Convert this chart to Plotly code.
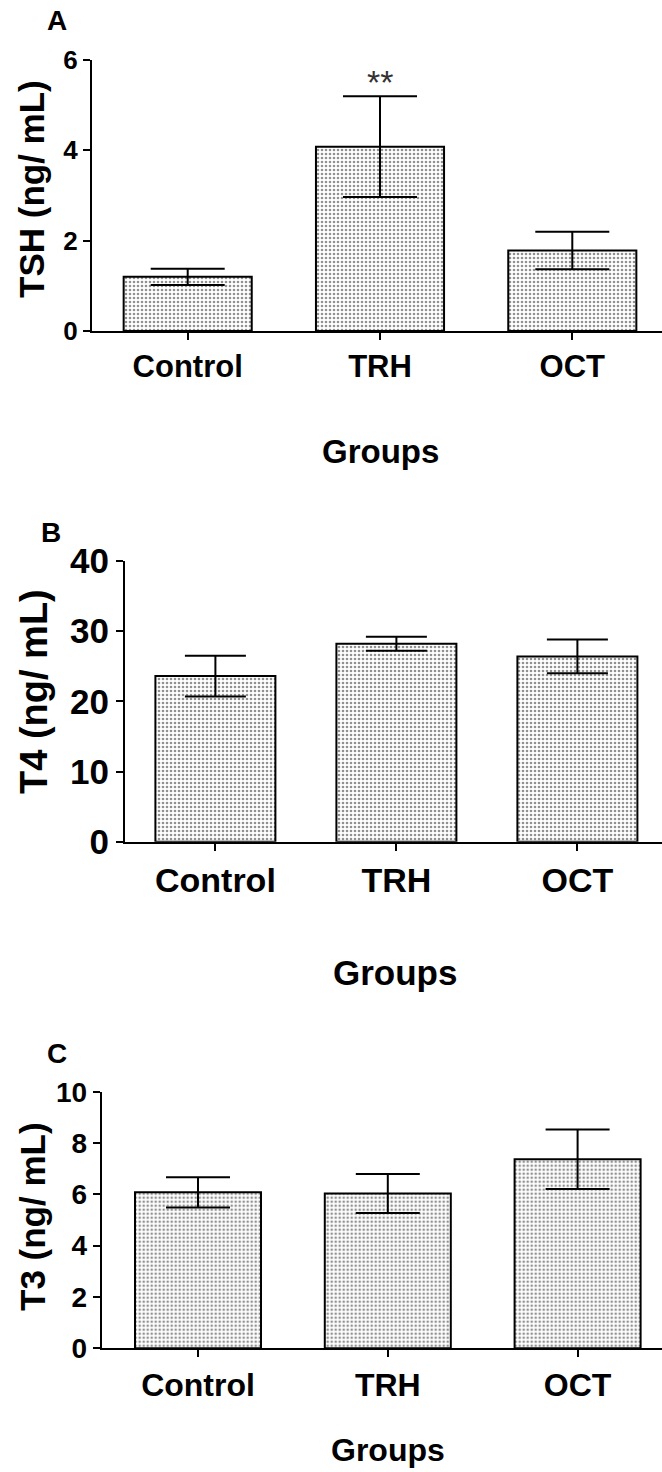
import plotly.graph_objects as go

# ---------------- data ----------------
groups = ["Control", "TRH", "OCT"]
tsh_mean = [1.20, 4.08, 1.78]
tsh_sem = [0.18, 1.115, 0.415]
t4_mean = [23.6, 28.2, 26.4]
t4_sem = [2.9, 1.0, 2.4]
t3_mean = [6.08, 6.03, 7.37]
t3_sem = [0.59, 0.76, 1.16]

panel_letters = ["A", "B", "C"]
y_titles = ["TSH (ng/ mL)", "T4 (ng/ mL)", "T3 (ng/ mL)"]
x_title = "Groups"
y_ticks = [[0, 2, 4, 6], [0, 10, 20, 30, 40], [0, 2, 4, 6, 8, 10]]
sig_label = "**"
sig_y = 5.69

W, H = 662, 1472
FONT = "Liberation Sans, Arial, Helvetica, sans-serif"


def px(x):
    return x / W


def py(y):
    return 1 - y / H


# panel geometry (pixels)
panels = [
    dict(mean=tsh_mean, sem=tsh_sem, ax=92, y0=331, ytop=60, centers=(187.7, 380.0),
         bw=0.666, cap=37, ytick=26, xtick=31, yrange=[0, 6]),
    dict(mean=t4_mean, sem=t4_sem, ax=125, y0=841.7, ytop=561, centers=(215.4, 396.4),
         bw=0.663, cap=30.5, ytick=35, xtick=34, yrange=[0, 40]),
    dict(mean=t3_mean, sem=t3_sem, ax=101.7, y0=1348.3, ytop=1091.7, centers=(198.0, 387.8),
         bw=0.664, cap=32, ytick=28, xtick=32, yrange=[0, 10]),
]

fig = go.Figure()
xpos = [0, 1, 2]

for i, p in enumerate(panels):
    n = "" if i == 0 else str(i + 1)
    fig.add_trace(go.Bar(
        x=xpos, y=p["mean"], width=p["bw"],
        xaxis="x" + n, yaxis="y" + n,
        marker=dict(color="white", line=dict(color="black", width=2),
                    pattern=dict(shape=".", fgcolor="#222222", bgcolor="white",
                                 size=4, solidity=0.33, fillmode="overlay")),
        error_y=dict(type="data", array=p["sem"], color="black", thickness=2,
                     width=p["cap"]),
        showlegend=False,
    ))
    c0, c1 = p["centers"]
    sp = c1 - c0
    xr = [(p["ax"] - c0) / sp, (W - c0) / sp]
    fig.layout["xaxis" + n] = dict(
        domain=[px(p["ax"]), 1], range=xr, anchor="y" + n,
        tickmode="array", tickvals=xpos, ticktext=groups,
        showline=True, linecolor="black", linewidth=2,
        ticks="outside", ticklen=7, tickwidth=2, tickcolor="black",
        tickfont=dict(family=FONT, size=p["xtick"], color="black", weight="bold"),
        showgrid=False, zeroline=False, fixedrange=True, automargin=False,
    )
    fig.layout["yaxis" + n] = dict(
        domain=[py(p["y0"]), py(p["ytop"])], range=p["yrange"], anchor="x" + n,
        tickmode="array", tickvals=y_ticks[i],
        showline=True, linecolor="black", linewidth=2,
        ticks="outside", ticklen=7, tickwidth=2, tickcolor="black",
        tickfont=dict(family=FONT, size=p["ytick"], color="black", weight="bold"),
        showgrid=False, zeroline=False, fixedrange=True, automargin=False,
    )

ann = []
# panel letters
for (lx, ly), t in zip([(57, 20), (51, 532), (57, 1053)], panel_letters):
    ann.append(dict(x=px(lx), y=py(ly), xref="paper", yref="paper", text=t,
                    showarrow=False, xanchor="center", yanchor="middle",
                    font=dict(family=FONT, size=28, color="black", weight="bold")))
# y titles
for (tx, ty, fs), t in zip([(31, 189, 35), (34, 692, 38), (32, 1217, 35)], y_titles):
    ann.append(dict(x=px(tx), y=py(ty), xref="paper", yref="paper", text=t,
                    showarrow=False, textangle=-90, xanchor="center", yanchor="middle",
                    font=dict(family=FONT, size=fs, color="black", weight="bold")))
# x titles
for (tx, ty, fs) in [(380, 451, 33), (395, 972, 35), (388, 1450, 32)]:
    ann.append(dict(x=px(tx), y=py(ty), xref="paper", yref="paper", text=x_title,
                    showarrow=False, xanchor="center", yanchor="middle",
                    font=dict(family=FONT, size=fs, color="black", weight="bold")))
# significance marker
ann.append(dict(x=1, y=sig_y, xref="x", yref="y", text=sig_label, showarrow=False,
                xanchor="center", yanchor="middle", yshift=-8,
                font=dict(family=FONT, size=34, color="#333333")))

fig.update_layout(
    width=W, height=H,
    margin=dict(l=0, r=0, t=0, b=0, autoexpand=False),
    paper_bgcolor="white", plot_bgcolor="white",
    annotations=ann,
    bargap=0.3,
)

fig.write_html(
    "out.html",
    config={"displayModeBar": False},
    post_script="document.body.style.margin='0';document.body.style.padding='0';"
                "document.documentElement.style.overflow='hidden';",
)
